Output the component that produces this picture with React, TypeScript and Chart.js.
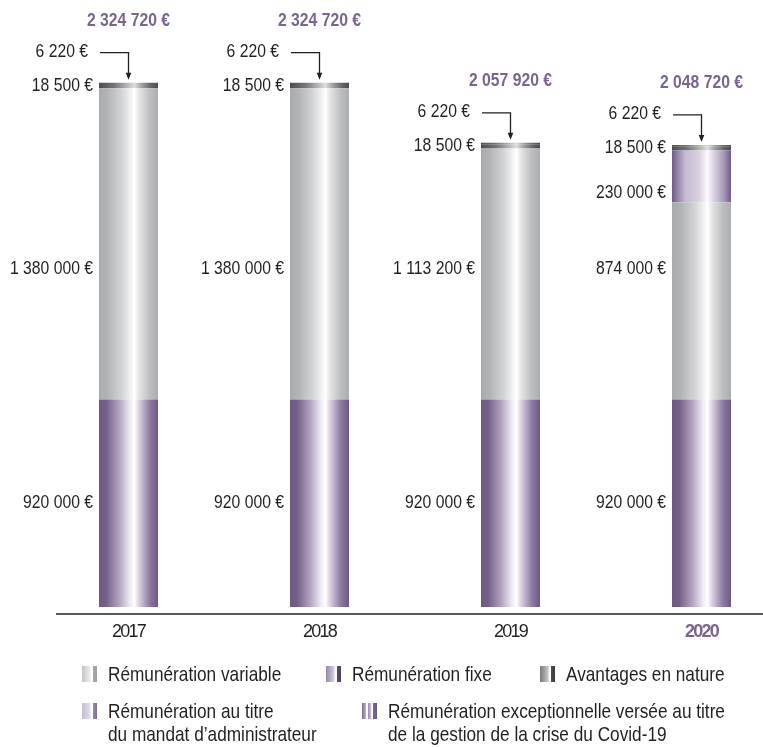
import { useEffect, useRef } from "react";
import { Chart, registerables } from "chart.js";
Chart.register(...registerables);

// ---------- DATA ----------
const years = ["2017", "2018", "2019", "2020"];
const fixe = [920000, 920000, 920000, 920000];
const variable = [1380000, 1380000, 1113200, 874000];
const covid = [0, 0, 0, 230000];
const administrateur = [18500, 18500, 18500, 18500];
const avantages = [6220, 6220, 6220, 6220];
const totals = [2324720, 2324720, 2057920, 2048720];
const legendLabels = [
  ["Rémunération variable"],
  ["Rémunération fixe"],
  ["Avantages en nature"],
  ["Rémunération au titre", "du mandat d’administrateur"],
  ["Rémunération exceptionnelle versée au titre", "de la gestion de la crise du Covid-19"],
];

// ---------- STYLE ----------
const W = 763;
const H = 747;
const FAMILY = "'Liberation Sans', Arial, sans-serif";
const TEXT = "#231f20";
const PURPLE = "#7a6491";
const BAR_FRAC = 0.309;
const Y_MAX = 2660000;

type Stops = [number, string][];
const fixeStops: Stops = [
  [0, "#6d5a81"], [0.12, "#735f87"], [0.35, "#b3a6c2"], [0.52, "#eee9f2"],
  [0.6, "#ffffff"], [0.68, "#d9d0e2"], [0.86, "#8e7ba2"], [1, "#6c5882"],
];
const variableStops: Stops = [
  [0, "#a9aaae"], [0.15, "#b3b4b8"], [0.38, "#d2d3d5"], [0.54, "#f2f2f3"],
  [0.6, "#ffffff"], [0.68, "#e4e4e6"], [0.86, "#bdbec1"], [1, "#acadb1"],
];
const covidStops: Stops = [
  [0, "#6f5b85"], [0.08, "#8d7ca2"], [0.22, "#c4b9d0"], [0.45, "#d8d0e0"],
  [0.6, "#fbfafc"], [0.7, "#ddd6e5"], [0.88, "#a696b7"], [1, "#705c88"],
];
const darkStops: Stops = [
  [0, "#4c4c4e"], [0.25, "#737375"], [0.5, "#bdbdbf"], [0.6, "#dededf"],
  [0.72, "#a3a3a5"], [0.88, "#656567"], [1, "#4a4a4c"],
];
const varSwatchStops: Stops = [
  [0, "#c4c5c8"], [0.45, "#e6e6e7"], [0.58, "#f6f6f6"], [0.62, "#ffffff"], [0.7, "#ffffff"], [0.72, "#a9aaad"], [1, "#9d9ea1"],
];
const fixeSwatchStops: Stops = [
  [0, "#9a89ad"], [0.45, "#c9bfd5"], [0.58, "#ece7f1"], [0.62, "#ffffff"], [0.7, "#ffffff"], [0.72, "#5f4c74"], [1, "#4e3d62"],
];
const darkSwatchStops: Stops = [
  [0, "#7a7a7c"], [0.45, "#b8b8b9"], [0.58, "#dcdcdd"], [0.62, "#ffffff"], [0.7, "#ffffff"], [0.72, "#4d4d4f"], [1, "#3d3d3f"],
];
const adminSwatchStops: Stops = [
  [0, "#c6bdd1"], [0.45, "#ddd7e4"], [0.58, "#f1eef4"], [0.62, "#ffffff"], [0.7, "#ffffff"], [0.72, "#9c8caf"], [1, "#7e6c93"],
];
const covidSwatchStops: Stops = [
  [0, "#7b6891"], [0.28, "#c4b9d0"], [0.3, "#ffffff"], [0.38, "#ffffff"], [0.4, "#9886ab"],
  [0.62, "#d6cee0"], [0.64, "#ffffff"], [0.72, "#ffffff"], [0.74, "#7c6a92"], [1, "#6a5780"],
];

const legendLayout = [
  { x: 82, y: 681 },
  { x: 326, y: 681 },
  { x: 540, y: 681 },
  { x: 82, y: 718 },
  { x: 362, y: 718 },
];
const legendSwatches = [varSwatchStops, fixeSwatchStops, darkSwatchStops, adminSwatchStops, covidSwatchStops];

const fmt = (n: number) => n.toString().replace(/\B(?=(\d{3})+(?!\d))/g, " ") + " €";

function barGradient(stops: Stops) {
  return (c: any) => {
    const chart = c.chart;
    const xs = chart.scales && chart.scales.x;
    if (c.type !== "data" || !xs || !chart.chartArea) return stops[Math.floor(stops.length / 2)][1];
    const cx = xs.getPixelForValue(c.dataIndex);
    const sp = xs.getPixelForValue(1) - xs.getPixelForValue(0);
    const w = sp * BAR_FRAC;
    const g = chart.ctx.createLinearGradient(cx - w / 2, 0, cx + w / 2, 0);
    stops.forEach(([o, col]) => g.addColorStop(o, col));
    return g;
  };
}

function drawText(
  ctx: CanvasRenderingContext2D,
  text: string,
  x: number,
  y: number,
  size: number,
  sx: number,
  align: CanvasTextAlign,
  baseline: CanvasTextBaseline,
  color: string,
  bold = false
) {
  ctx.save();
  ctx.font = `${bold ? "bold " : ""}${size}px ${FAMILY}`;
  ctx.fillStyle = color;
  ctx.textAlign = align;
  ctx.textBaseline = baseline;
  ctx.translate(x, y);
  ctx.scale(sx, 1);
  ctx.fillText(text, 0, 0);
  ctx.restore();
}

const NUM_SIZE = 18.5;
const NUM_SX = 0.85;

const annotations = {
  id: "annotations",
  beforeDraw(chart: any) {
    (chart.ctx as any).letterSpacing = "-1.8px";
  },
  beforeDatasetsDraw(chart: any) {
    (chart.ctx as any).letterSpacing = "0px";
  },
  afterDatasetsDraw(chart: any) {
    const ctx = chart.ctx as CanvasRenderingContext2D;
    const xs = chart.scales.x;
    const ys = chart.scales.y;
    const sp = xs.getPixelForValue(1) - xs.getPixelForValue(0);
    const w = sp * BAR_FRAC;
    ctx.save();
    years.forEach((_, i) => {
      const cx = xs.getPixelForValue(i);
      const left = cx - w / 2;
      const y0 = ys.getPixelForValue(0);
      const yFix = ys.getPixelForValue(fixe[i]);
      const yVar = ys.getPixelForValue(fixe[i] + variable[i]);
      const yCov = ys.getPixelForValue(fixe[i] + variable[i] + covid[i]);
      const yAdm = ys.getPixelForValue(fixe[i] + variable[i] + covid[i] + administrateur[i]);
      const yTop = ys.getPixelForValue(fixe[i] + variable[i] + covid[i] + administrateur[i] + avantages[i]);

      const lbl = (t: string, x: number, y: number) =>
        drawText(ctx, t, x, y, NUM_SIZE, NUM_SX, "right", "middle", TEXT);
      lbl(fmt(fixe[i]), left - 6, (y0 + yFix) / 2);
      lbl(fmt(variable[i]), left - 6, yFix - 131);
      if (covid[i] > 0) lbl(fmt(covid[i]), left - 6, yVar - 9);
      lbl(fmt(administrateur[i]), left - 6, (yCov + yAdm) / 2);
      const yA = yTop - 31;
      lbl(fmt(avantages[i]), left - 11, yA);

      // arrow
      ctx.strokeStyle = TEXT;
      ctx.fillStyle = TEXT;
      ctx.lineWidth = 1.3;
      ctx.beginPath();
      ctx.moveTo(left + 1, yA + 1);
      ctx.lineTo(cx, yA + 1);
      ctx.lineTo(cx, yTop - 8);
      ctx.stroke();
      ctx.beginPath();
      ctx.moveTo(cx - 2.8, yTop - 10);
      ctx.lineTo(cx + 2.8, yTop - 10);
      ctx.lineTo(cx, yTop - 3);
      ctx.closePath();
      ctx.fill();

      // total
      drawText(ctx, fmt(totals[i]), cx, yTop - 62, NUM_SIZE, NUM_SX, "center", "middle", PURPLE, true);
    });
    ctx.restore();
  },
  afterDraw(chart: any) {
    const ctx = chart.ctx as CanvasRenderingContext2D;
    const ca = chart.chartArea;
    ctx.save();
    // baseline axis
    ctx.strokeStyle = TEXT;
    ctx.lineWidth = 1.5;
    ctx.beginPath();
    ctx.moveTo(56, ca.bottom + 7);
    ctx.lineTo(W, ca.bottom + 7);
    ctx.stroke();

    // legend
    legendLabels.forEach((lines, k) => {
      const { x, y } = legendLayout[k];
      const sw = 15;
      const sh = 16;
      const g = ctx.createLinearGradient(x, 0, x + sw, 0);
      legendSwatches[k].forEach(([o, col]) => g.addColorStop(o, col));
      ctx.fillStyle = g;
      ctx.fillRect(x, y - sh + 1, sw, sh);
      lines.forEach((t, j) => drawText(ctx, t, x + 26, y + j * 23, 21, 0.82, "left", "alphabetic", TEXT));
    });
    ctx.restore();
  },
};

export default function App() {
  const ref = useRef<HTMLCanvasElement | null>(null);
  useEffect(() => {
    document.body.style.margin = "0";
    const canvas = ref.current;
    if (!canvas) return;
    const mk = (label: string, data: number[], stops: Stops) => ({
      label,
      data,
      backgroundColor: barGradient(stops),
      borderWidth: 0,
      barPercentage: BAR_FRAC,
      categoryPercentage: 1,
      clip: false as any,
    });
    const chart = new Chart(canvas, {
      type: "bar",
      data: {
        labels: years,
        datasets: [
          mk(legendLabels[1][0], fixe, fixeStops),
          mk(legendLabels[0][0], variable, variableStops),
          mk(legendLabels[4].join(" "), covid, covidStops),
          mk(legendLabels[3].join(" "), administrateur, darkStops),
          mk(legendLabels[2][0], avantages, darkStops),
        ],
      },
      plugins: [annotations],
      options: {
        responsive: false,
        maintainAspectRatio: false,
        animation: false,
        layout: { padding: { left: 128.5, right: 61.5, top: 7, bottom: 110 } },
        plugins: { legend: { display: false }, tooltip: { enabled: false } },
        scales: {
          x: {
            type: "category",
            stacked: true,
            offset: false,
            grid: { display: false, drawTicks: false },
            border: { display: false },
            ticks: {
              padding: 14,
              color: (c: any) => (c.index === 3 ? PURPLE : TEXT),
              font: (c: any) => ({ family: FAMILY, size: 18, weight: c.index === 3 ? "bold" : "normal" }),
            },
            afterFit: (s: any) => {
              s.height = 30;
            },
          },
          y: { stacked: true, display: false, min: 0, max: Y_MAX },
        },
      },
    });
    return () => chart.destroy();
  }, []);
  return <canvas ref={ref} width={W} height={H} style={{ display: "block" }} />;
}
